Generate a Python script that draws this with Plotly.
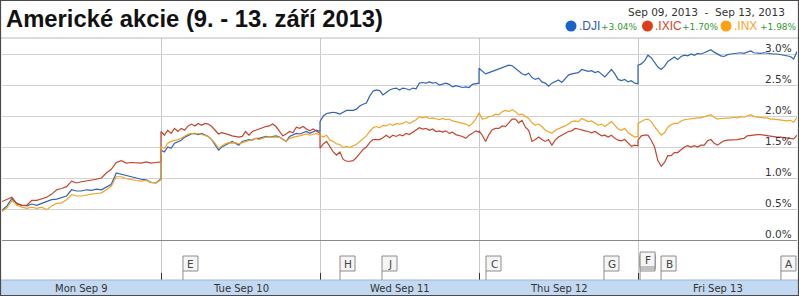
import plotly.graph_objects as go

W, H = 799, 296

# ---------------- data ----------------
day_labels = ["Mon Sep 9", "Tue Sep 10", "Wed Sep 11", "Thu Sep 12", "Fri Sep 13"]
y_ticks = [0.0, 0.5, 1.0, 1.5, 2.0, 2.5, 3.0]

series_names = [".DJI", ".IXIC", ".INX"]
series_changes = ["+3.04%", "+1.70%", "+1.98%"]

dji_mon = [.48, .55, .67, .59, .56, .55, .58, .56, .59, .62, .65, .66, .69, .71, .81, .79, .79,
           .81, .80, .82, .81, .86, .90, 1.08, 1.06, 1.03, 1.02, .99, .98, .97, .93, .92, .99]
dji_tue = [1.45, 1.42, 1.50, 1.48, 1.56, 1.59, 1.61, 1.66, 1.69, 1.71, 1.72, 1.70, 1.72, 1.69, 1.67, 1.62,
           1.53, 1.45, 1.50, 1.53, 1.57, 1.59, 1.56, 1.53, 1.59, 1.61, 1.62, 1.61, 1.64, 1.64, 1.66, 1.67,
           1.66, 1.67, 1.68, 1.66, 1.62, 1.59, 1.67, 1.69, 1.72, 1.71, 1.73, 1.75, 1.72, 1.75, 1.77, 1.75]
dji_wed = [1.91, 2.00, 2.04, 2.05, 2.06, 2.05, 2.03, 2.06, 2.09, 2.09, 2.09, 2.11, 2.16, 2.19, 2.21, 2.32,
           2.40, 2.42, 2.41, 2.34, 2.38, 2.42, 2.44, 2.45, 2.42, 2.45, 2.44, 2.42, 2.45, 2.44, 2.53, 2.54,
           2.53, 2.55, 2.53, 2.54, 2.50, 2.51, 2.53, 2.51, 2.47, 2.49, 2.47, 2.46, 2.47, 2.46, 2.51, 2.52, 2.53]
dji_thu = [2.77, 2.73, 2.68, 2.70, 2.72, 2.74, 2.75, 2.77, 2.80, 2.82, 2.81, 2.77, 2.72, 2.68, 2.66, 2.69,
           2.62, 2.59, 2.61, 2.55, 2.53, 2.48, 2.53, 2.55, 2.58, 2.54, 2.61, 2.66, 2.68, 2.69, 2.70, 2.75,
           2.73, 2.72, 2.73, 2.70, 2.72, 2.68, 2.63, 2.69, 2.75, 2.68, 2.59, 2.57, 2.59, 2.55, 2.57, 2.53, 2.52]
dji_fri = [2.82, 2.84, 2.89, 2.98, 2.94, 2.86, 2.79, 2.75, 2.80, 2.88, 2.91, 2.95, 2.91, 2.96, 2.98, 2.97,
           3.00, 2.98, 3.01, 3.00, 3.02, 3.04, 3.07, 3.03, 3.00, 2.97, 2.96, 2.99, 3.00, 3.01, 3.01, 3.02,
           3.01, 3.03, 3.05, 3.02, 3.01, 3.01, 3.02, 3.01, 3.01, 3.00, 3.00, 2.99, 2.99, 2.98, 2.96, 2.92, 3.04]

ixic_mon = [.62, .65, .69, .58, .56, .56, .64, .64, .67, .69, .74, .81, .83, .86, .95, .92, .94,
            .95, .96, .98, 1.00, 1.08, 1.14, 1.25, 1.28, 1.24, 1.25, 1.24, 1.24, 1.26, 1.24, 1.25, 1.26]
ixic_tue = [1.75, 1.69, 1.77, 1.72, 1.80, 1.75, 1.80, 1.77, 1.84, 1.87, 1.84, 1.88, 1.85, 1.88, 1.87, 1.83,
            1.77, 1.71, 1.73, 1.72, 1.70, 1.68, 1.67, 1.66, 1.67, 1.75, 1.69, 1.75, 1.77, 1.79, 1.82, 1.83,
            1.84, 1.87, 1.83, 1.75, 1.68, 1.71, 1.75, 1.73, 1.82, 1.80, 1.83, 1.79, 1.76, 1.79, 1.75, 1.72]
ixic_wed = [1.48, 1.55, 1.59, 1.51, 1.42, 1.37, 1.42, 1.30, 1.27, 1.27, 1.28, 1.33, 1.40, 1.46, 1.50, 1.57,
            1.62, 1.62, 1.62, 1.65, 1.69, 1.65, 1.69, 1.67, 1.70, 1.68, 1.72, 1.70, 1.74, 1.77, 1.81, 1.79,
            1.80, 1.77, 1.79, 1.75, 1.76, 1.74, 1.76, 1.72, 1.74, 1.70, 1.69, 1.67, 1.64, 1.69, 1.72, 1.76, 1.74]
ixic_thu = [1.76, 1.69, 1.59, 1.70, 1.78, 1.80, 1.80, 1.84, 1.83, 1.89, 1.95, 1.95, 1.89, 1.93, 1.82, 1.77,
            1.59, 1.62, 1.66, 1.62, 1.59, 1.62, 1.53, 1.61, 1.66, 1.69, 1.72, 1.75, 1.76, 1.80, 1.79, 1.77,
            1.76, 1.75, 1.73, 1.75, 1.72, 1.68, 1.69, 1.66, 1.69, 1.64, 1.61, 1.60, 1.62, 1.57, 1.51, 1.53, 1.52]
ixic_fri = [1.61, 1.68, 1.69, 1.69, 1.61, 1.50, 1.28, 1.19, 1.25, 1.36, 1.36, 1.41, 1.41, 1.45, 1.50, 1.52,
            1.50, 1.52, 1.50, 1.53, 1.53, 1.60, 1.62, 1.56, 1.53, 1.57, 1.60, 1.61, 1.61, 1.62, 1.62, 1.63,
            1.64, 1.68, 1.69, 1.70, 1.70, 1.70, 1.69, 1.68, 1.68, 1.67, 1.66, 1.66, 1.65, 1.65, 1.63, 1.63, 1.69]

inx_mon = [.46, .52, .64, .56, .53, .51, .53, .51, .53, .49, .55, .59, .60, .65, .73, .71, .71,
           .73, .74, .75, .76, .81, .87, 1.02, 1.02, .99, .97, .96, .95, .96, .93, .92, .97]
inx_tue = [1.50, 1.48, 1.56, 1.59, 1.60, 1.62, 1.64, 1.68, 1.71, 1.72, 1.71, 1.72, 1.70, 1.69, 1.67, 1.62,
           1.56, 1.48, 1.52, 1.55, 1.57, 1.56, 1.57, 1.55, 1.57, 1.59, 1.60, 1.62, 1.64, 1.62, 1.64, 1.66,
           1.66, 1.66, 1.67, 1.66, 1.62, 1.59, 1.64, 1.66, 1.67, 1.68, 1.69, 1.71, 1.69, 1.71, 1.72, 1.69]
inx_wed = [1.69, 1.66, 1.69, 1.61, 1.59, 1.55, 1.54, 1.49, 1.51, 1.49, 1.52, 1.54, 1.59, 1.64, 1.68, 1.75,
           1.81, 1.83, 1.81, 1.85, 1.84, 1.87, 1.85, 1.88, 1.87, 1.88, 1.91, 1.88, 1.91, 1.94, 1.99, 1.97,
           1.99, 1.96, 1.97, 1.95, 1.94, 1.96, 1.94, 1.95, 1.92, 1.91, 1.90, 1.88, 1.87, 1.84, 1.88, 1.95, 2.04]
inx_thu = [2.05, 1.95, 1.96, 1.99, 2.00, 2.03, 2.02, 2.07, 2.09, 2.07, 2.10, 2.07, 2.02, 2.03, 1.99, 1.96,
           1.89, 1.85, 1.87, 1.83, 1.77, 1.75, 1.72, 1.77, 1.79, 1.82, 1.84, 1.87, 1.91, 1.92, 1.91, 1.96,
           1.94, 1.91, 1.92, 1.89, 1.85, 1.87, 1.83, 1.87, 1.91, 1.85, 1.79, 1.77, 1.80, 1.73, 1.69, 1.66, 1.67]
inx_fri = [1.88, 1.91, 1.94, 1.95, 1.91, 1.83, 1.76, 1.69, 1.73, 1.82, 1.86, 1.88, 1.88, 1.92, 1.94, 1.95,
           1.96, 1.96, 1.97, 1.97, 1.99, 2.01, 2.02, 1.98, 1.95, 1.96, 1.96, 1.97, 1.97, 1.98, 1.97, 1.99,
           1.98, 2.00, 2.02, 1.99, 1.98, 1.98, 1.97, 1.97, 1.95, 1.95, 1.94, 1.94, 1.92, 1.92, 1.93, 1.90, 1.98]

# news flags: letter, time (in trading days since Monday open), stacked count
flag_letters = ["E", "H", "J", "C", "G", "F", "B", "A"]
flag_times = [1.138, 2.126, 2.390, 3.044, 3.786, 4.013, 4.145, 4.899]
flag_counts = [1, 1, 1, 1, 1, 3, 1, 1]

line_colors = ["#3064b4", "#c4442c", "#f0a428"]
dot_colors = ["#1a62c8", "#dc3d18", "#ffa010"]
name_colors = ["#2a5cb8", "#d44424", "#f5a21e"]
change_color = "#2f9a2f"


def px_x(v):
    return v / W


def px_y(v):
    return 1 - v / H


def week_xy(days):
    xs, ys = [], []
    for d, vals in enumerate(days):
        n = len(vals)
        xs += [d + i / (n - 1) for i in range(n)]
        ys += vals
    return xs, ys


all_series = [
    [dji_mon, dji_tue, dji_wed, dji_thu, dji_fri],
    [ixic_mon, ixic_tue, ixic_wed, ixic_thu, ixic_fri],
    [inx_mon, inx_tue, inx_wed, inx_thu, inx_fri],
]

fig = go.Figure()
for idx in [0, 1, 2]:
    xs, ys = week_xy(all_series[idx])
    fig.add_trace(go.Scatter(x=xs, y=ys, mode="lines", name=series_names[idx],
                             line=dict(color=line_colors[idx], width=1.2), hoverinfo="skip"))

shapes = []
annotations = []

# top rule
shapes.append(dict(type="line", xref="paper", yref="paper", x0=0, x1=1, y0=px_y(38), y1=px_y(38),
                   line=dict(color="#b8b8b8", width=1)))
# bottom date bar
shapes.append(dict(type="rect", xref="paper", yref="paper", x0=0, x1=1, y0=0, y1=px_y(280),
                   fillcolor="#c3d8f1", line=dict(width=0), layer="above"))
shapes.append(dict(type="line", xref="paper", yref="paper", x0=0, x1=1, y0=px_y(280), y1=px_y(280),
                   line=dict(color="#9fb8d8", width=1)))
# outer border
shapes.append(dict(type="rect", xref="paper", yref="paper", x0=px_x(0.5), x1=px_x(798.5),
                   y0=px_y(295.5), y1=px_y(0.5), line=dict(color="#4a4a4a", width=1.2)))

# y labels inside on right
for v in y_ticks:
    annotations.append(dict(text=f"{v:.1f}%", xref="paper", x=px_x(794), xanchor="right",
                            yref="y", y=v, yanchor="bottom", yshift=-2, showarrow=False,
                            font=dict(family="DejaVu Sans", size=10.5, color="#333333")))

# day labels
for d, lab in enumerate(day_labels):
    annotations.append(dict(text=lab, xref="x", x=d + 0.5, xanchor="center",
                            yref="paper", y=px_y(288.5), yanchor="middle", showarrow=False,
                            font=dict(family="DejaVu Sans", size=10, color="#333333")))

# news flags
for letter, t, cnt in zip(flag_letters, flag_times, flag_counts):
    shapes.append(dict(type="line", xref="x", xsizemode="pixel", xanchor=t, x0=0, x1=0,
                       yref="paper", y0=px_y(280), y1=px_y(271), line=dict(color="#8c8c8c", width=1)))
    for k in range(cnt):
        off = 2 * k
        shapes.append(dict(type="rect", xref="x", xsizemode="pixel", xanchor=t, x0=0, x1=15,
                           yref="paper", y0=px_y(271 - off), y1=px_y(256 - off),
                           fillcolor="#f5f5f5", line=dict(color="#8c8c8c", width=1), layer="above"))
    top = 256 - 2 * (cnt - 1)
    annotations.append(dict(text=letter, xref="x", x=t, xanchor="center", xshift=8,
                            yref="paper", y=px_y(top + 7.5), yanchor="middle", showarrow=False,
                            font=dict(family="DejaVu Sans", size=10.5, color="#444444")))

# title
annotations.append(dict(text="<b>Americké akcie (9. - 13. září 2013)</b>", xref="paper", x=px_x(4),
                        xanchor="left", yref="paper", y=px_y(18.5), yanchor="middle", showarrow=False,
                        font=dict(family="Liberation Sans", size=23.8, color="#111111")))
# date range
annotations.append(dict(text="Sep 09, 2013\u00a0 -\u00a0 Sep 13, 2013", xref="paper", x=px_x(787),
                        xanchor="right", yref="paper", y=px_y(12), yanchor="middle", showarrow=False,
                        font=dict(family="DejaVu Sans", size=10.5, color="#333333")))

# legend row
dot_cx = [571, 647.5, 726]
name_x = [577, 653, 732]
chg_x = [599, 680, 758]
for i in range(3):
    shapes.append(dict(type="circle", xref="paper", yref="paper",
                       x0=px_x(dot_cx[i] - 5.5), x1=px_x(dot_cx[i] + 5.5),
                       y0=px_y(26 + 5.5), y1=px_y(26 - 5.5),
                       fillcolor=dot_colors[i], line=dict(width=0)))
    annotations.append(dict(text=series_names[i], xref="paper", x=px_x(name_x[i]), xanchor="left",
                            yref="paper", y=px_y(26.5), yanchor="middle", showarrow=False,
                            font=dict(family="Liberation Sans", size=12, color=name_colors[i])))
    annotations.append(dict(text=series_changes[i], xref="paper", x=px_x(chg_x[i]), xanchor="left",
                            yref="paper", y=px_y(27), yanchor="middle", showarrow=False,
                            font=dict(family="DejaVu Sans", size=9, color=change_color)))

fig.update_layout(
    width=W, height=H,
    margin=dict(l=0, r=0, t=0, b=0),
    paper_bgcolor="white", plot_bgcolor="white",
    showlegend=False,
    xaxis=dict(domain=[px_x(2), px_x(797)], range=[0, 5], tickvals=[0, 1, 2, 3, 4, 5],
               showgrid=True, gridcolor="#c8c8c8", gridwidth=1, ticks="inside", ticklen=7,
               tickcolor="#333333", showticklabels=False, zeroline=False, showline=False,
               fixedrange=True),
    yaxis=dict(domain=[1 - 280 / H, 1 - 38 / H], range=[(240 - 280) / 62, (240 - 38) / 62],
               tickvals=y_ticks, showgrid=True, gridcolor="#d2d2d2", gridwidth=1,
               showticklabels=False, zeroline=True, zerolinecolor="#8a8a8a", zerolinewidth=1,
               showline=False, fixedrange=True),
    shapes=shapes,
    annotations=annotations,
)

fig.write_html("out.html", config={"displayModeBar": False},
               post_script="document.body.style.margin='0';document.body.style.padding='0';"
                           "document.body.style.overflow='hidden';")
